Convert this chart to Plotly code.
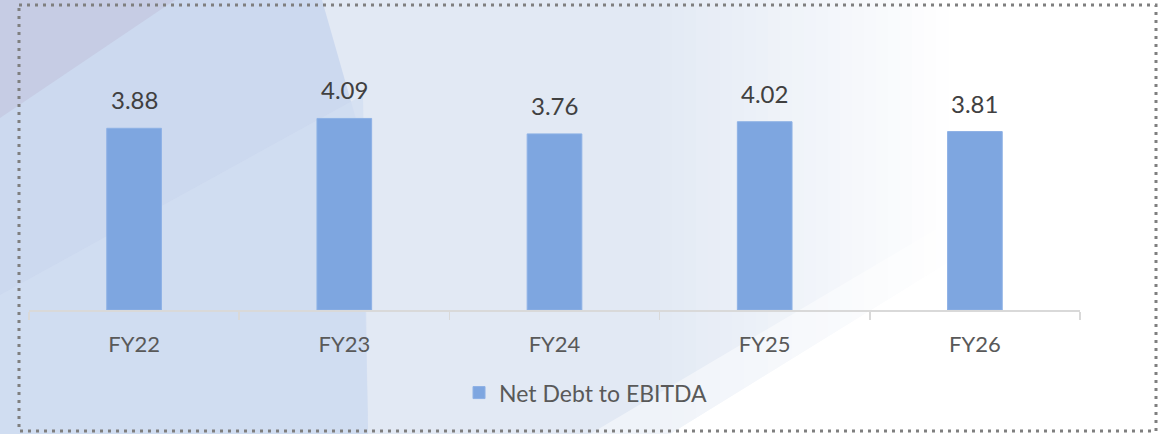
import plotly.graph_objects as go

categories = ["FY22", "FY23", "FY24", "FY25", "FY26"]
values = [3.88, 4.09, 3.76, 4.02, 3.81]
series_name = "Net Debt to EBITDA"

W, H = 1165, 434
ML, MR, MT, MB = 29, 85, 29, 124
PW, PH = W - ML - MR, H - MT - MB


def px(x, y):
    return (x - ML) / PW, (H - MB - y) / PH


def poly(points, color, opacity=1.0):
    pts = [px(x, y) for x, y in points]
    path = "M " + " L ".join(f"{a:.5f},{b:.5f}" for a, b in pts) + " Z"
    return dict(type="path", xref="paper", yref="paper", path=path,
                fillcolor=color, line=dict(width=0), opacity=opacity, layer="below")


def mix(c1, c2, t):
    a = [int(c1[i:i + 2], 16) for i in (1, 3, 5)]
    b = [int(c2[i:i + 2], 16) for i in (1, 3, 5)]
    return "#" + "".join(f"{round(p + (q - p) * t):02X}" for p, q in zip(a, b))


shapes = []
shapes.append(poly([(0, 0), (1165, 0), (1165, 434), (0, 434)], "#FFFFFF"))
# light region fading to white towards the right
shapes.append(poly([(320, 0), (660, 0), (660, 434), (320, 434)], "#E2E9F4"))
n = 24
for i in range(n):
    xa = 660 + i * 12
    shapes.append(poly([(xa, 0), (xa + 13, 0), (xa + 13, 434), (xa, 434)],
                       mix("#E2E9F4", "#FFFFFF", (i + 1) / (n + 1))))
# white diagonal lower right
shapes.append(poly([(670, 434), (960, 255), (1165, 255), (1165, 434)], "#FFFFFF"))
shapes.append(poly([(590, 434), (960, 215), (960, 255), (670, 434)], "#FFFFFF", 0.45))
# left darker blue region
shapes.append(poly([(0, 0), (322, 0), (362, 140), (368, 434), (0, 434)], "#CCD9EF"))
# subtle lighter lower part of the left region
shapes.append(poly([(0, 295), (363, 95), (368, 434), (0, 434)], "#D2DEF2", 0.75))
# top-left purple triangle
shapes.append(poly([(0, 0), (175, 0), (0, 118)], "#C6CCE4"))
# dotted border
x0, y0 = px(19, 5)
x1, y1 = px(1156, 431)
shapes.append(dict(type="rect", xref="paper", yref="paper", x0=x0, y0=y0, x1=x1, y1=y1,
                   line=dict(color="#7F7F7F", width=3, dash="3px,5px"),
                   fillcolor="rgba(0,0,0,0)", layer="above"))

fig = go.Figure()
fig.add_trace(go.Bar(
    x=categories, y=values, name=series_name,
    marker=dict(color="#7EA6E0", line=dict(color="#8DB1E5", width=1)),
    width=0.26, showlegend=True, hoverinfo="skip",
))

annotations = [
    dict(x=c, y=v, xref="x", yref="y", text=f"{v:.2f}", showarrow=False,
         yanchor="bottom", yshift=12,
         font=dict(family="Lato", size=24, color="#404040"))
    for c, v in zip(categories, values)
]

fig.update_layout(
    width=W, height=H,
    margin=dict(l=ML, r=MR, t=MT, b=MB),
    paper_bgcolor="#FFFFFF", plot_bgcolor="rgba(0,0,0,0)",
    shapes=shapes, annotations=annotations,
    font=dict(family="Lato", color="#595959"),
    showlegend=True,
    legend=dict(orientation="h", x=0.530, y=-0.294, xanchor="center", yanchor="middle",
                font=dict(family="Lato", size=23, color="#595959"),
                bgcolor="rgba(0,0,0,0)"),
    xaxis=dict(showline=True, linecolor="#D9D9D9", linewidth=1.5,
               ticks="outside", tickson="boundaries", tickcolor="#D9D9D9",
               ticklen=8, tickwidth=1.5, showgrid=False,
               tickfont=dict(family="Lato", size=22, color="#595959"),
               ticklabelstandoff=14, fixedrange=True),
    yaxis=dict(visible=False, range=[0, 6], fixedrange=True),
)

fig.write_html(
    "out.html",
    config={"displayModeBar": False, "staticPlot": True},
    post_script="document.documentElement.style.margin='0';document.body.style.margin='0';"
                "document.body.style.overflow='hidden';",
)
